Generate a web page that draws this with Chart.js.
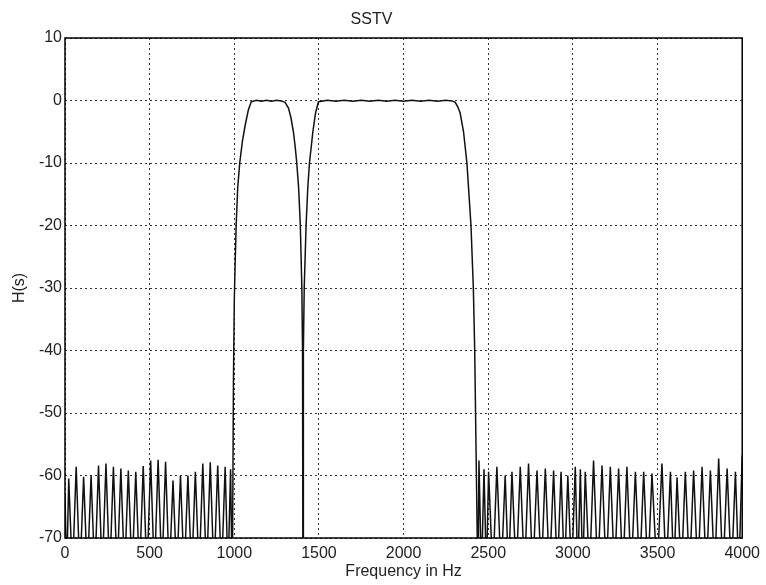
<!DOCTYPE html>
<html>
<head>
<meta charset="utf-8">
<title>SSTV</title>
<script src="https://cdn.jsdelivr.net/npm/chart.js@4/dist/chart.umd.min.js"></script>
<style>
  html, body { margin: 0; padding: 0; background: #fff; }
  #grafico { display: block; }
</style>
</head>
<body>
<canvas id="grafico" width="766" height="585"></canvas>
<script>
// eixos
const xTicks = [0, 500, 1000, 1500, 2000, 2500, 3000, 3500, 4000];
const yTicks = [10, 0, -10, -20, -30, -40, -50, -60, -70];

// filtro de sincronismo (1100-1300 Hz), com o ruido da banda de rejeicao a esquerda
const syncHz = [
  0, 10, 22, 44, 66, 88, 110, 132, 154, 176, 198, 220, 242, 264, 286, 308, 330, 352,
  374, 396, 418, 440, 462, 484, 506, 528, 550, 572, 594, 616, 638, 660, 682, 704,
  726, 748, 770, 792, 814, 836, 858, 880, 902, 924, 946, 963, 978, 987,
  990, 995, 1000, 1005, 1011, 1020, 1032, 1048, 1064, 1083, 1100, 1130, 1160, 1190,
  1220, 1250, 1280, 1300, 1320, 1335, 1349, 1360, 1369, 1380, 1390, 1399, 1403, 1405, 1406
];
const syncDb = [
  -63, -76, -60.5, -76, -58.6, -76, -60.2, -76, -60, -76, -58.4, -76, -58.1, -76, -58.6, -76, -58.9, -76,
  -59.2, -76, -59.4, -76, -58.5, -76, -57.6, -76, -57.5, -76, -57.8, -76, -60.8, -76, -60, -76,
  -60, -76, -59.4, -76, -58.1, -76, -57.9, -76, -58.4, -76, -58.6, -76, -59, -76,
  -70, -45, -32, -26, -20, -14, -10, -6.5, -4, -1.5, -0.2, 0.05, -0.1, 0.05,
  -0.1, 0.05, -0.1, -0.3, -1.2, -2.8, -5, -7.5, -10, -14, -20, -30, -40, -70, -80
];

// filtro de dados (1500-2300 Hz), com o ruido da banda de rejeicao a direita
const dadosHz = [
  1406, 1407, 1409, 1413, 1424, 1434, 1444, 1464, 1480, 1497, 1550, 1600, 1650, 1700,
  1750, 1800, 1850, 1900, 1950, 2000, 2050, 2100, 2150, 2200, 2250, 2290, 2305, 2320,
  2334, 2354, 2374, 2386, 2398, 2412, 2420, 2425, 2430, 2435, 2439,
  2445, 2460, 2475, 2489, 2502, 2527, 2551, 2576, 2600, 2620, 2640, 2665, 2689, 2714,
  2738, 2763, 2788, 2813, 2837, 2862, 2886, 2908, 2930, 2950, 2970, 2992, 3014, 3029,
  3044, 3058, 3073, 3098, 3122, 3147, 3172, 3197, 3221, 3246, 3270, 3295, 3319, 3344,
  3369, 3394, 3418, 3443, 3467, 3497, 3526, 3551, 3576, 3596, 3615, 3640, 3664, 3689,
  3713, 3738, 3763, 3788, 3812, 3837, 3861, 3886, 3911, 3936, 3960, 3980, 4000
];
const dadosDb = [
  -80, -70, -40, -30, -20, -14, -10, -5, -2, -0.2, 0.05, -0.1, 0.05, -0.1,
  0.05, -0.1, 0.05, -0.1, 0.05, -0.1, 0.05, -0.1, 0.05, -0.1, 0.05, -0.1, -0.3, -1,
  -2, -5, -10, -15, -20, -30, -40, -50, -60, -70, -80,
  -57.6, -76, -59, -76, -59.4, -76, -58.6, -76, -60, -76, -59.4, -76, -58.6, -76,
  -58.1, -76, -59.2, -76, -58.9, -76, -59.2, -76, -59.4, -76, -60, -76, -58.6, -76,
  -59, -76, -59.4, -76, -57.6, -76, -58.4, -76, -58.6, -76, -58.9, -76, -58.6, -76,
  -59.4, -76, -59.4, -76, -59.7, -76, -58.1, -76, -59.4, -76, -60.3, -76, -59.4, -76,
  -59.2, -76, -58.6, -76, -59.2, -76, -57.3, -76, -58.9, -76, -59.4, -76, -56.8
];

function montaPontos(hz, db) {
  return hz.map((f, i) => ({ x: f, y: db[i] }));
}

// moldura fechada em volta da area do grafico
const moldura = {
  id: 'moldura',
  afterDraw(chart) {
    const { ctx, chartArea } = chart;
    ctx.save();
    ctx.strokeStyle = '#000';
    ctx.lineWidth = 1.5;
    ctx.setLineDash([]);
    ctx.strokeRect(chartArea.left, chartArea.top, chartArea.right - chartArea.left, chartArea.bottom - chartArea.top);
    ctx.restore();
  }
};

const fonte = { family: "'Liberation Sans', Arial, sans-serif", size: 16 };

function desenhaGrafico() {
  const ctx = document.getElementById('grafico').getContext('2d');

  new Chart(ctx, {
    type: 'line',
    data: {
      datasets: [
        {
          label: 'Sincronismo',
          data: montaPontos(syncHz, syncDb),
          borderColor: '#111',
          borderWidth: 1.5,
          pointRadius: 0,
          tension: 0,
        },
        {
          label: 'Dados',
          data: montaPontos(dadosHz, dadosDb),
          borderColor: '#111',
          borderWidth: 1.5,
          pointRadius: 0,
          tension: 0,
        },
      ],
    },
    options: {
      responsive: false,
      animation: false,
      devicePixelRatio: 1,
      layout: { padding: { left: 0, right: 23, top: 0, bottom: 0 } },
      plugins: {
        legend: { display: false },
        tooltip: { enabled: false },
        title: {
          display: true,
          text: 'SSTV',
          color: '#222',
          font: { ...fonte, weight: 'normal' },
          padding: { top: 10.4, bottom: 8.4 },
        },
      },
      scales: {
        x: {
          type: 'linear',
          min: xTicks[0],
          max: xTicks[xTicks.length - 1],
          afterBuildTicks: (scale) => { scale.ticks = xTicks.map(v => ({ value: v })); },
          afterFit: (scale) => { scale.height = 47; },
          ticks: { color: '#222', font: fonte, padding: 6, maxRotation: 0, callback: (v) => String(v) },
          grid: { color: '#333', drawTicks: false, lineWidth: 1 },
          border: { display: false, dash: [2, 3] },
          title: { display: true, text: 'Frequency in Hz', color: '#222', font: fonte, padding: { top: 0, bottom: 3.4 } },
        },
        y: {
          min: yTicks[yTicks.length - 1],
          max: yTicks[0],
          afterBuildTicks: (scale) => { scale.ticks = yTicks.slice().reverse().map(v => ({ value: v })); },
          afterFit: (scale) => { scale.width = 65; },
          ticks: { color: '#222', font: fonte, padding: 3, callback: (v) => String(v) },
          grid: { color: '#333', drawTicks: false, lineWidth: 1 },
          border: { display: false, dash: [2, 3] },
          title: { display: true, text: 'H(s)', color: '#222', font: fonte, padding: { top: 10.4, bottom: 0 } },
        },
      },
    },
    plugins: [moldura],
  });
}

window.addEventListener('load', desenhaGrafico);
</script>
</body>
</html>
